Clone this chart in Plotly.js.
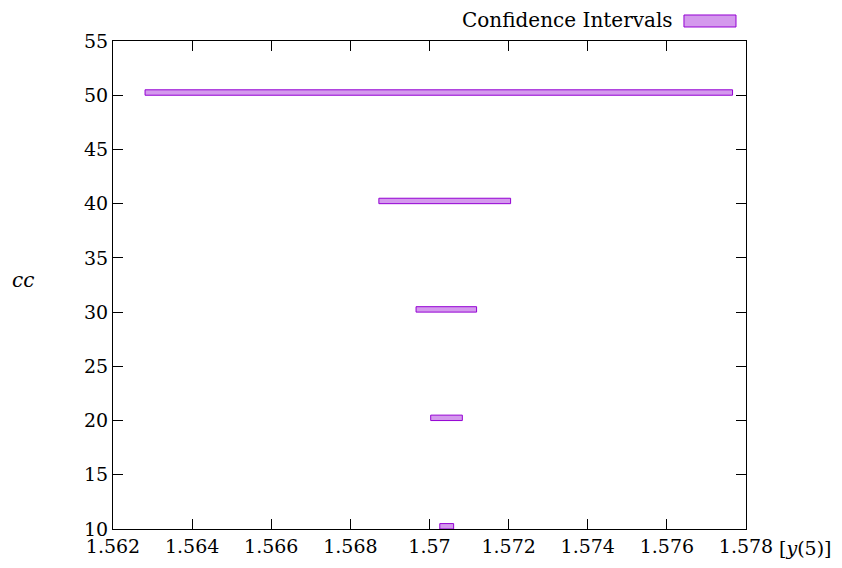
<!DOCTYPE html>
<html>
<head>
<meta charset="utf-8">
<script src="https://cdn.plot.ly/plotly-3.0.1.min.js"></script>
<style>html,body{margin:0;padding:0;background:#fff;}#chart{width:842px;height:568px;}</style>
</head>
<body>
<div id="chart"></div>
<script>
const ccValues = [10, 20, 30, 40, 50];
const lowerBound = [1.57026, 1.57003, 1.56966, 1.56872, 1.56281];
const upperBound = [1.57061, 1.57083, 1.57119, 1.57205, 1.57766];
const xTickVals = [1.562, 1.564, 1.566, 1.568, 1.57, 1.572, 1.574, 1.576, 1.578];
const xTickText = ["1.562", "1.564", "1.566", "1.568", "1.57", "1.572", "1.574", "1.576", "1.578"];
const yTickVals = [10, 15, 20, 25, 30, 35, 40, 45, 50, 55];

const FONT = "DejaVu Serif";
const violet = "#9400d3";
const fillViolet = "rgba(148,0,211,0.4)";

const trace = {
  type: "bar",
  orientation: "h",
  y: ccValues,
  base: lowerBound,
  x: upperBound.map((u, i) => u - lowerBound[i]),
  width: 0.5,
  offset: 0,
  marker: {color: fillViolet, line: {color: violet, width: 1}},
  name: "Confidence Intervals",
  showlegend: false,
  hoverinfo: "skip"
};

const axisCommon = {
  showgrid: false,
  zeroline: false,
  showline: true,
  linecolor: "#000",
  linewidth: 1,
  mirror: "ticks",
  ticks: "inside",
  ticklen: 10,
  tickwidth: 1,
  tickcolor: "#000",
  tickfont: {family: FONT, size: 19, color: "#000"}
};

const layout = {
  width: 842,
  height: 568,
  margin: {l: 113, r: 96, t: 41, b: 39},
  paper_bgcolor: "#fff",
  plot_bgcolor: "#fff",
  font: {family: FONT, size: 19, color: "#000"},
  bargap: 0,
  xaxis: Object.assign({}, axisCommon, {
    range: [1.562, 1.578],
    tickmode: "array",
    tickvals: xTickVals,
    ticktext: xTickText
  }),
  yaxis: Object.assign({}, axisCommon, {
    range: [10, 55],
    tickmode: "array",
    tickvals: yTickVals,
    ticktext: yTickVals.map(String)
  }),
  annotations: [
    {xref: "paper", yref: "paper", x: 1.049, y: 0, xanchor: "left", yanchor: "middle", yshift: -19,
     text: "[<i>y</i>(5)]", showarrow: false, font: {family: FONT, size: 19, color: "#000"}},
    {xref: "paper", yref: "paper", x: 0, y: 0.51, xanchor: "left", yanchor: "middle", xshift: -103,
     text: "<i>cc</i>", showarrow: false, font: {family: FONT, size: 20, color: "#000"}},
    {xref: "paper", yref: "paper", x: 0.8878, y: 1, xanchor: "right", yanchor: "middle", yshift: 21,
     text: "Confidence Intervals", showarrow: false, font: {family: FONT, size: 20, color: "#000"}}
  ],
  shapes: [
    {type: "rect", xref: "paper", yref: "paper", x0: 0.9020, x1: 0.9842, y0: 1.0287, y1: 1.0533,
     fillcolor: fillViolet, line: {color: violet, width: 1}}
  ]
};

Plotly.newPlot("chart", [trace], layout, {displayModeBar: false, staticPlot: true});
</script>
</body>
</html>
